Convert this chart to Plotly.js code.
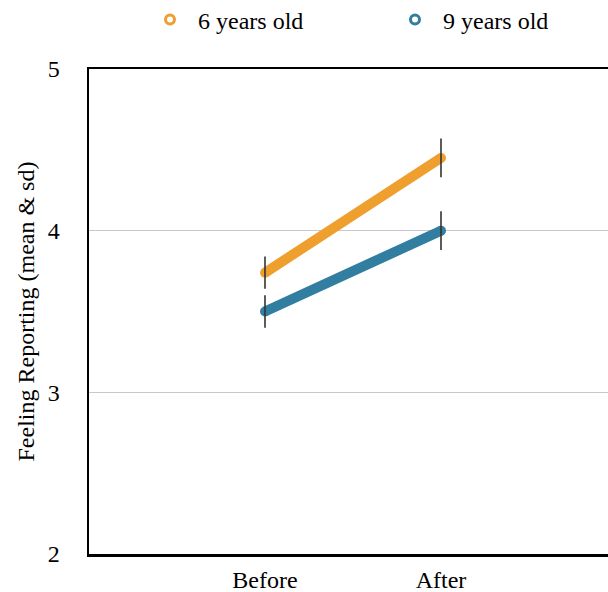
<!DOCTYPE html>
<html>
<head>
<meta charset="utf-8">
<script src="https://cdn.plot.ly/plotly-3.0.1.min.js"></script>
<style>
html, body { margin: 0; padding: 0; overflow: hidden; background: #fff; }
#chart { width: 720px; height: 592px; }
</style>
</head>
<body>
<div id="chart"></div>
<script>
const categories = ["Before", "After"];
const seriesNames = ["6 years old", "9 years old"];
const means6 = [3.74, 4.45];
const sd6 = [0.10, 0.12];
const means9 = [3.50, 4.00];
const sd9 = [0.10, 0.12];
const colors = ["#EE9F2D", "#327EA1"];
const yTicks = [2, 3, 4, 5];
const yTitle = "Feeling Reporting (mean & sd)";

const FONT = "Liberation Serif, Times New Roman, serif";
const FS = 24;

function lineTrace(y, color, name) {
  return {
    x: categories, y: y, type: "scatter", mode: "lines+markers",
    line: { color: color, width: 10 },
    marker: { color: color, size: 10, symbol: "circle" },
    showlegend: false, hoverinfo: "skip", name: name
  };
}
function errTrace(y, sd) {
  return {
    x: categories, y: y, type: "scatter", mode: "none",
    error_y: { type: "data", array: sd, visible: true, color: "#333333", thickness: 1.6, width: 0 },
    showlegend: false, hoverinfo: "skip"
  };
}
function legendTrace(color, name) {
  return {
    x: [null], y: [null], type: "scatter", mode: "markers", name: name,
    marker: { color: color, size: 9, symbol: "circle-open", line: { width: 3, color: color } },
    showlegend: true
  };
}

const data = [
  lineTrace(means6, colors[0], seriesNames[0]),
  lineTrace(means9, colors[1], seriesNames[1]),
  errTrace(means6, sd6),
  errTrace(means9, sd9),
  legendTrace(colors[0], seriesNames[0]),
  legendTrace(colors[1], seriesNames[1])
];

const W = 720;
const layout = {
  width: W, height: 592,
  margin: { l: 89, r: W - 617, t: 69, b: 38 },
  paper_bgcolor: "#ffffff", plot_bgcolor: "#ffffff",
  font: { family: FONT, size: FS, color: "#000000" },
  showlegend: true,
  legend: {
    orientation: "h", xref: "container", yref: "container",
    x: 142 / W, xanchor: "left", y: 1 - 20 / 592, yanchor: "middle",
    bgcolor: "rgba(0,0,0,0)",
    font: { family: FONT, size: FS, color: "#000" },
    itemwidth: 46, tracegroupgap: 0, entrywidth: 184, entrywidthmode: "pixels"
  },
  xaxis: {
    type: "category", categoryorder: "array", categoryarray: categories,
    range: [-1, 2], showgrid: false, zeroline: false,
    showline: true, linecolor: "#000", linewidth: 2.5, mirror: true,
    ticks: "", ticklabelstandoff: 3,
    tickfont: { family: FONT, size: FS, color: "#000" }
  },
  yaxis: {
    range: [2, 5], tickvals: yTicks, ticktext: yTicks.map(String),
    showgrid: true, gridcolor: "#c8c8c8", gridwidth: 1, zeroline: false,
    showline: true, linecolor: "#000", linewidth: 2.5, mirror: true,
    ticks: "", ticklabelstandoff: 22,
    tickfont: { family: FONT, size: FS, color: "#000" }
  },
  annotations: [{
    text: yTitle, textangle: -90, showarrow: false,
    xref: "paper", yref: "paper", x: -(89 - 25) / 528, y: 0.5,
    xanchor: "center", yanchor: "middle",
    font: { family: FONT, size: FS, color: "#000" }
  }]
};

Plotly.newPlot("chart", data, layout, { displayModeBar: false, staticPlot: true });
</script>
</body>
</html>
